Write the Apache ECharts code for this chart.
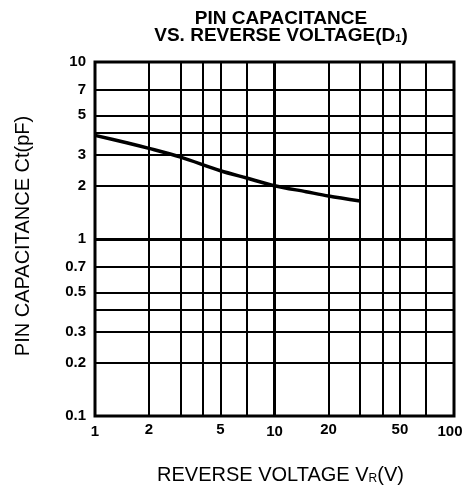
<!DOCTYPE html>
<html>
<head>
<meta charset="utf-8">
<script src="https://cdn.jsdelivr.net/npm/echarts@6/dist/echarts.min.js"></script>
<style>
  html, body { margin: 0; padding: 0; background: #fff; }
  #chart { width: 464px; height: 490px; }
</style>
</head>
<body>
<div id="chart"></div>
<script>
// reverse voltage (V) and pin capacitance (pF)
var voltage = [1, 1.5, 2, 3, 5, 7, 10, 15, 20, 30];
var capacitance = [3.85, 3.5, 3.25, 2.9, 2.43, 2.21, 2.0, 1.85, 1.75, 1.64];

// grid lines and tick labels
var xGrid = [2, 3, 4, 5, 7, 10, 20, 30, 40, 50, 70];
var yGrid = [0.2, 0.3, 0.4, 0.5, 0.7, 1, 2, 3, 4, 5, 7];
var xLabels = [1, 2, 5, 10, 20, 50, 100];
var yLabels = [0.1, 0.2, 0.3, 0.5, 0.7, 1, 2, 3, 5, 7, 10];
var xMajor = [10];
var yMajor = [1];

var FONT = 'Liberation Sans';
var tickFont = { color: '#000', fontFamily: FONT, fontWeight: 'bold', fontSize: 15 };

function isDecade(v) {
	var e = Math.log10(v);
	return Math.abs(e - Math.round(e)) < 1e-9;
}

function union(a, b) {
	var out = a.slice();
	b.forEach(function(v) { if (out.indexOf(v) < 0) out.push(v); });
	return out.sort(function(p, q) { return p - q; });
}

// decades are labelled by the axis itself, the rest by the grid lines
function gridItems(key, grid, labels, major, dist) {
	return union(grid, labels.filter(function(v) { return !isDecade(v); })).map(function(v) {
		var item = {};
		item[key] = v;
		item.lineStyle = {
			color: '#000',
			type: 'solid',
			width: major.indexOf(v) >= 0 ? 3 : 2,
			opacity: grid.indexOf(v) >= 0 ? 1 : 0
		};
		item.label = Object.assign({
			show: labels.indexOf(v) >= 0 && !isDecade(v),
			position: 'start',
			distance: dist,
			formatter: String(v)
		}, tickFont);
		return item;
	});
}

var chart = echarts.init(document.getElementById('chart'));

var option = {
	animation: false,
	backgroundColor: '#fff',
	title: {
		text: 'PIN CAPACITANCE\nVS. REVERSE VOLTAGE(D{s|1})',
		left: 276,
		top: 5,
		textAlign: 'center',
		textStyle: {
			color: '#000',
			fontFamily: FONT,
			fontWeight: 'bold',
			fontSize: 19,
			lineHeight: 17,
			rich: {
				s: { fontSize: 11, fontWeight: 'bold', fontFamily: FONT, color: '#000', verticalAlign: 'bottom', lineHeight: 17 }
			}
		}
	},
	grid: {
		left: 95,
		right: 10,
		top: 62,
		bottom: 74,
		outerBoundsMode: 'none',
		show: true,
		borderColor: '#000',
		borderWidth: 3
	},
	xAxis: {
		type: 'log',
		logBase: 10,
		min: 1,
		max: 100,
		name: 'REVERSE VOLTAGE V{s|R}(V)',
		nameLocation: 'middle',
		nameGap: 49,
		nameTextStyle: {
			color: '#000',
			fontFamily: FONT,
			fontSize: 20,
			padding: [0, 0, 0, 12],
			rich: {
				s: { fontSize: 12, fontFamily: FONT, color: '#000', verticalAlign: 'bottom' }
			}
		},
		axisLine: { show: false },
		axisTick: { show: false },
		axisLabel: Object.assign({
			margin: 8,
			showMinLabel: true,
			showMaxLabel: true,
			formatter: function(v) {
				if (xLabels.indexOf(v) < 0) return '';
				return v === 100 ? '{m|' + v + '}' : String(v);
			},
			rich: {
				m: Object.assign({ padding: [0, 8, 0, 0] }, tickFont)
			}
		}, tickFont),
		splitLine: { show: false }
	},
	yAxis: {
		type: 'log',
		logBase: 10,
		min: 0.1,
		max: 10,
		name: 'PIN CAPACITANCE Ct(pF)',
		nameLocation: 'middle',
		nameGap: 62,
		nameTextStyle: {
			color: '#000',
			fontFamily: FONT,
			fontSize: 20,
			padding: [0, 0, 0, 6]
		},
		axisLine: { show: false },
		axisTick: { show: false },
		axisLabel: Object.assign({
			margin: 9,
			showMinLabel: true,
			showMaxLabel: true,
			formatter: function(v) {
				var hit = yLabels.filter(function(l) { return Math.abs(l - v) < 1e-9; });
				return hit.length ? String(hit[0]) : '';
			}
		}, tickFont),
		splitLine: { show: false }
	},
	series: [{
		type: 'line',
		data: [],
		silent: true,
		markLine: {
			silent: true,
			symbol: ['none', 'none'],
			animation: false,
			data: gridItems('xAxis', xGrid, xLabels, xMajor, 6)
				.concat(gridItems('yAxis', yGrid, yLabels, yMajor, 9))
		}
	}, {
		type: 'line',
		name: 'Ct',
		z: 5,
		smooth: 0.3,
		showSymbol: false,
		lineStyle: { color: '#000', width: 3.5 },
		data: voltage.map(function(v, i) { return [v, capacitance[i]]; })
	}]
};

chart.setOption(option);
</script>
</body>
</html>
